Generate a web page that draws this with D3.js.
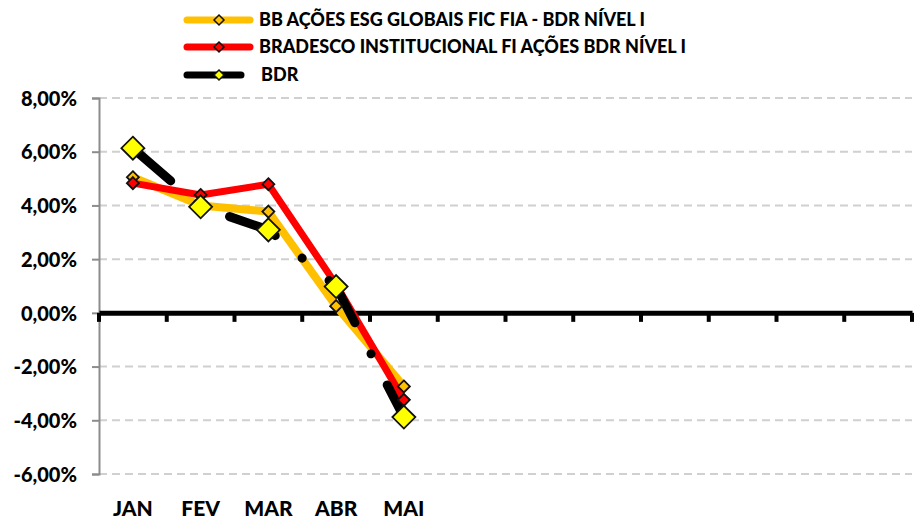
<!DOCTYPE html>
<html>
<head>
<meta charset="utf-8">
<script src="https://cdn.jsdelivr.net/npm/d3@7"></script>
<style>
  body { margin: 0; background: #fff; }
  text { font-family: Lato, "Open Sans", sans-serif; font-weight: 900; fill: #000; }
</style>
</head>
<body>
<div id="chart"></div>
<script>
// Data
const months = ["JAN", "FEV", "MAR", "ABR", "MAI", "JUN", "JUL", "AGO", "SET", "OUT", "NOV", "DEZ"];
const tickLabels = ["JAN", "FEV", "MAR", "ABR", "MAI", "", "", "", "", "", "", ""];
const yTicks = [-6, -4, -2, 0, 2, 4, 6, 8];
const bbEsg = [5.05, 4.0, 3.77, 0.25, -2.74];
const bradesco = [4.83, 4.39, 4.79, 1.05, -3.24];
const bdr = [6.13, 3.95, 3.09, 0.98, -3.88];

const width = 915;
const height = 519;
const margin = { top: 98, right: 3, bottom: 45, left: 99 };

const svg = d3.select("#chart").append("svg")
    .attr("width", width)
    .attr("height", height);

// Scales
const x = d3.scaleBand()
    .domain(months)
    .range([margin.left, width - margin.right]);

const y = d3.scaleLinear()
    .domain([-6, 8])
    .range([height - margin.bottom, margin.top]);

const cx = m => x(m) + x.bandwidth() / 2;

// Gridlines
svg.append("g")
    .selectAll("line")
    .data(yTicks.filter(d => d !== 0))
    .join("line")
    .attr("x1", margin.left)
    .attr("x2", width - margin.right)
    .attr("y1", d => y(d))
    .attr("y2", d => y(d))
    .attr("stroke", "#d0d0d0")
    .attr("stroke-width", 2)
    .attr("stroke-dasharray", "8,5");

// Y axis
const yAxis = svg.append("g")
    .attr("transform", `translate(${margin.left},0)`)
    .call(d3.axisLeft(y)
        .tickValues(yTicks)
        .tickSize(7)
        .tickFormat(d => d.toFixed(2).replace(".", ",") + "%"));
yAxis.select(".domain").attr("stroke", "#8c8c8c").attr("stroke-width", 2);
yAxis.selectAll(".tick line").attr("stroke", "#8c8c8c").attr("stroke-width", 2);
yAxis.selectAll(".tick text")
    .attr("x", -22)
    .attr("dy", "0.36em")
    .style("font-size", "20px");

// X axis (at zero)
const xAxis = svg.append("g")
    .attr("transform", `translate(0,${y(0)})`)
    .call(d3.axisBottom(x)
        .tickValues([])
        .tickSizeOuter(0));
xAxis.select(".domain").attr("stroke", "#000").attr("stroke-width", 5);

// category boundary ticks
svg.append("g")
    .selectAll("line")
    .data(d3.range(months.length + 1))
    .join("line")
    .attr("x1", i => margin.left + i * x.step())
    .attr("x2", i => margin.left + i * x.step())
    .attr("y1", y(0))
    .attr("y2", y(0) + 9)
    .attr("stroke", "#000")
    .attr("stroke-width", 4);

// Month labels at the bottom
svg.append("g")
    .selectAll("text")
    .data(months)
    .join("text")
    .attr("x", d => cx(d))
    .attr("y", height - 3)
    .attr("text-anchor", "middle")
    .style("font-size", "21px")
    .text((d, i) => tickLabels[i]);

// Series
const series = [
    { name: "BB AÇÕES ESG GLOBAIS FIC FIA - BDR NÍVEL I", values: bbEsg, color: "#ffc000", width: 8, marker: "#ffc000", size: 12, dash: null },
    { name: "BRADESCO INSTITUCIONAL FI AÇÕES BDR NÍVEL I", values: bradesco, color: "#ff0000", width: 7, marker: "#ff0000", size: 12, dash: null },
    { name: "BDR", values: bdr, color: "#000000", width: 9, marker: "#ffff00", size: 23, dash: "50,35,0.1,35" }
];

const line = d3.line()
    .x((d, i) => cx(months[i]))
    .y(d => y(d));

function diamond(sel, s) {
    const h = s / 2;
    sel.attr("d", `M0,${-h}L${h},0L0,${h}L${-h},0Z`);
}

series.forEach(s => {
    svg.append("path")
        .datum(s.values)
        .attr("fill", "none")
        .attr("stroke", s.color)
        .attr("stroke-width", s.width)
        .attr("stroke-linecap", "round")
        .attr("stroke-linejoin", "round")
        .attr("stroke-dasharray", s.dash)
        .attr("d", line);
});

series.forEach(s => {
    svg.append("g")
        .selectAll("path")
        .data(s.values)
        .join("path")
        .attr("transform", (d, i) => `translate(${cx(months[i])},${y(d)})`)
        .attr("fill", s.marker)
        .attr("stroke", "#111")
        .attr("stroke-width", 1.8)
        .call(diamond, s.size);
});

// Legend
const legend = svg.append("g");
const legendY = [20, 47, 75];
series.forEach((s, i) => {
    const g = legend.append("g").attr("transform", `translate(0,${legendY[i]})`);
    g.append("line")
        .attr("x1", 187)
        .attr("x2", i === 2 ? 241 : 250)
        .attr("stroke", s.color)
        .attr("stroke-width", 7)
        .attr("stroke-linecap", "round");
    g.append("path")
        .attr("transform", "translate(219,0)")
        .attr("fill", s.marker)
        .attr("stroke", "#111")
        .attr("stroke-width", 1.5)
        .call(diamond, 10);
    g.append("text")
        .attr("x", i === 2 ? 261 : 259)
        .attr("dy", "0.36em")
        .style("font-size", "18px")
        .text(s.name);
});
</script>
</body>
</html>
